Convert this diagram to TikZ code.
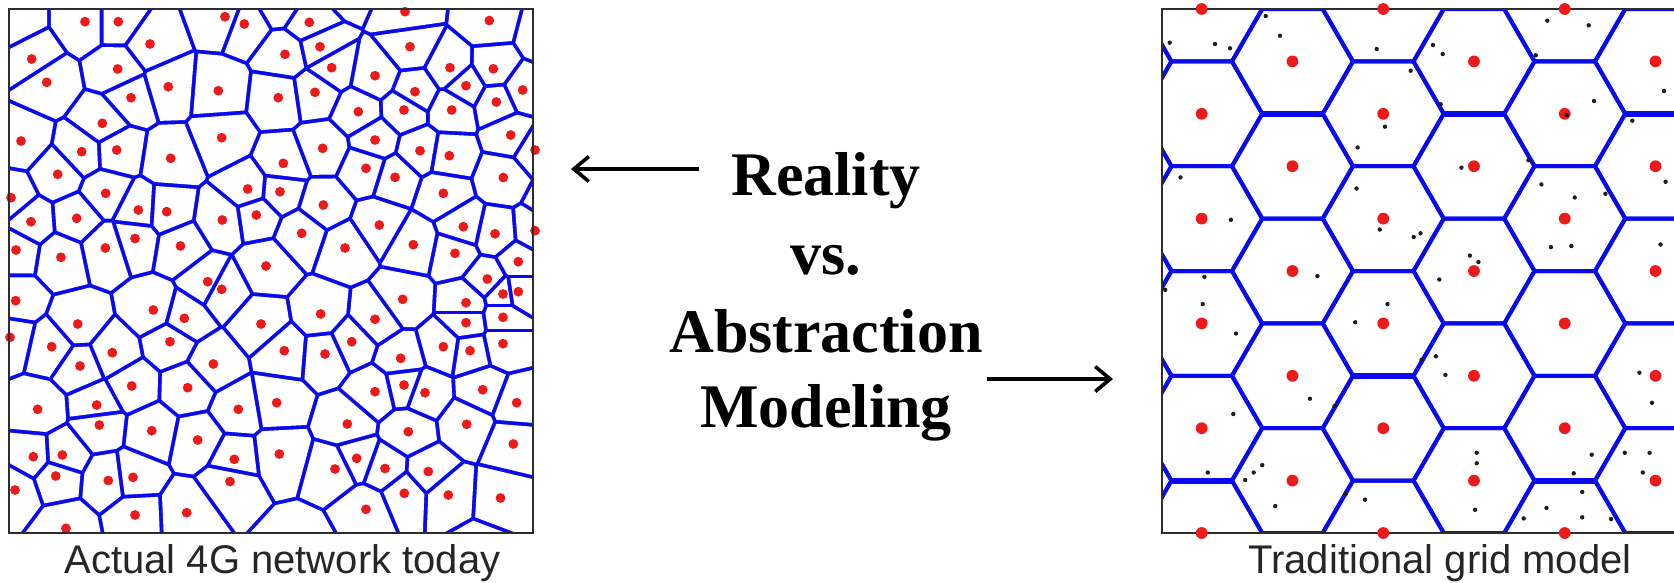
\documentclass[tikz,border=0pt]{standalone}
\usepackage{fontspec}
\setmainfont{Liberation Serif}
\newfontfamily\capfont{Liberation Sans}
\usetikzlibrary{arrows.meta}
\definecolor{vblue}{RGB}{10,10,238}
\definecolor{vred}{RGB}{238,26,26}
\definecolor{frameC}{RGB}{45,45,45}
\definecolor{capC}{RGB}{38,38,38}
\definecolor{udotC}{RGB}{30,30,30}

\makeatletter
\newcount\vnum \vnum=0
\newcount\vi
\newcount\vj
\newdimen\vdx
\newdimen\vdy
\def\vsite#1#2{\global\advance\vnum by 1\relax
  \expandafter\xdef\csname vsx\the\vnum\endcsname{\the\dimexpr #1pt\relax}%
  \expandafter\xdef\csname vsy\the\vnum\endcsname{\the\dimexpr -#2pt\relax}}
\def\vhw{1.95}
\def\vclipone{%
  \edef\vdxn{\strip@pt\vdx}\edef\vdyn{\strip@pt\vdy}%
  \pgfmathsetmacro\vang{atan2(\vdyn,\vdxn)}%
  \edef\vmx{\the\dimexpr(\csname vsx\the\vi\endcsname+\csname vsx\the\vj\endcsname)/2\relax}%
  \edef\vmy{\the\dimexpr(\csname vsy\the\vi\endcsname+\csname vsy\the\vj\endcsname)/2\relax}%
  \clip[shift={(\vmx,\vmy)},rotate=\vang] (-\vhw,-300) -- (-\vhw,300) -- (-300,300) -- (-300,-300) -- cycle;}
\def\vtry{%
  \vdx=\dimexpr\csname vsx\the\vj\endcsname-\csname vsx\the\vi\endcsname\relax
  \vdy=\dimexpr\csname vsy\the\vj\endcsname-\csname vsy\the\vi\endcsname\relax
  \ifdim\vdx<125pt \ifdim\vdx>-125pt \ifdim\vdy<125pt \ifdim\vdy>-125pt
    \vclipone
  \fi\fi\fi\fi}
\def\vinner{\vj=0 \vinnerstep}
\def\vinnerstep{\advance\vj by 1 \ifnum\vj=\vi\else\vtry\fi
  \ifnum\vj<\vnum \expandafter\vinnerstep\fi}
\makeatother

% visible sites
\foreach \a/\b in {85/21.7, 118.3/21.7, 225/16.7, 244.3/24, 31.7/59, 150/44, 117.7/69, 46.7/82.3, 168.3/86.7, 218.3/90.7, 131/97.7, 102.3/123.3, 221.7/137.7, 21/141, 81.7/151.7, 116.7/150, 170.7/158.3, 57.7/174.3, 247.7/189, 11/197.7, 105.7/193.3, 138.3/210, 166.7/211.7, 256.3/215, 31/221.7, 76.7/218.3, 222.3/220, 135/238.5, 180.5/246, 16/250, 105.3/248,
405/11.7, 489.3/20.5, 309.3/22.3, 285/54.3, 320/46.7, 410/46.7, 331.7/67.7, 450/67.7, 493.3/68.8, 375/75.7, 466/85.7, 415/91.7, 278.3/97.7, 315/92.3, 496.3/102, 358.3/111.7, 404/110, 451.7/110, 375/140, 322.7/148.3, 420/150.7, 449.3/155.7, 283.3/163.3, 503.3/177.5, 366/168.3, 395/177.3, 280/191.7, 443.3/193.3, 323.3/205, 379.3/225, 463.3/226.7, 301.7/233.3, 495/233.8, 345/248, 413.3/244.7,
61/257.3, 207.7/281.7, 221.7/289.3, 15.7/300.7, 153.3/310, 184.3/318.3, 77.7/324, 10/337.3, 170/341.7, 51.7/346.7, 112.3/352.7, 213.3/364, 80/366, 261/324, 131.7/386, 187.7/387.7, 37.7/409.3, 96.7/405, 238.3/409.3, 99.3/425, 151.7/430.7, 197.7/440, 33.3/456.7, 62.3/455, 234.3/459.3, 55.7/476, 108.3/480.5, 133/477.3, 230/481.5,
266/266, 455/253.3, 487.3/279, 503/294, 402.7/299.3, 466/302.7, 320.7/314, 375/319.3, 466/322.7, 503/317.3, 284.3/350.7, 351.7/341.7, 443.3/346.7, 470/350.7, 503/343.7, 325/354, 400.7/358.3, 375/391.7, 404/385, 425/392.7, 482.7/389.7, 276.7/402.7, 347.3/424, 408.3/431.7, 466.7/424.3, 279.3/454, 356.7/458.3, 335/469, 385/468.5, 428.3/471.5,
522.7/90, 510.7/135, 535/150, 535/230.7, 518.3/261.7, 518.3/291.7, 516.7/402.7, 513.3/444, 500.5/498,
15/490, 135/515, 186.7/512.7, 66/528.3, 366/509.3, 404.3/493.3, 448.3/495}{\vsite{\a}{\b}}
\edef\vV{\the\vnum}
% hidden sites (cells whose site lies outside the frame)
\foreach \a/\b in {13/22, 545/35, 347/-14, 280/3, 300/546, 480/552, 552/203}{\vsite{\a}{\b}}
\edef\vN{\the\vnum}

\tikzset{
  hexline/.style={draw=vblue, line width=4pt, line join=round},
  hexthick/.style={draw=vblue, line width=6.2pt},
  framebox/.style={draw=frameC, line width=1.8pt},
  sitedot/.style={fill=vred},
  userdot/.style={fill=udotC},
  caption/.style={font=\capfont\fontsize{40}{48}\selectfont, text=capC, inner sep=0pt, anchor=base},
  bigword/.style={font=\bfseries\fontsize{62}{74}\selectfont, inner sep=0pt, anchor=base},
  bigarrow/.style={line width=3.6pt, -{Straight Barb[length=15pt,width=25pt]}}
}

\begin{document}
\begin{tikzpicture}[x=1pt,y=1pt]
\useasboundingbox (0,0) rectangle (1674,-582);
\fill[white] (0,0) rectangle (1674,-582);

% ---------------- left panel: Voronoi cells ----------------
\fill[vblue] (9,-9) rectangle (533,-533);
\foreach \ii in {1,...,\vN}{%
  \vi=\ii\relax
  \begin{scope}
    \vinner
    \fill[white] (9,-9) rectangle (533,-533);
  \end{scope}
}
\foreach \ii in {1,...,\vV}{%
  \edef\px{\csname vsx\ii\endcsname}\edef\py{\csname vsy\ii\endcsname}%
  \fill[sitedot] (\px,\py) circle (4.9);
}
\draw[framebox] (9,-9) rectangle (533,-533);
\node[caption] (capL) at (282.5,-573) {Actual 4G network today};

% ---------------- middle ----------------
\node[bigword] (w1) at (826,-195) {Reality};
\node[bigword] (w2) at (826,-274) {vs.};
\node[bigword] (w3) at (826,-352) {Abstraction};
\node[bigword] (w4) at (826,-427) {Modeling};
\coordinate (la1) at (699,-169);
\coordinate (la2) at (571,-169);
\coordinate (ra1) at (987,-379);
\coordinate (ra2) at (1113,-379);
\draw[bigarrow] (la1) -- (la2);
\draw[bigarrow] (ra1) -- (ra2);

% ---------------- right panel: hexagonal grid ----------------
\begin{scope}
  \clip (1162,-9) rectangle (1680,-533);
  \foreach \k in {-1,...,6}{
    \foreach \m in {-1,...,6}{
      \pgfmathsetmacro\hcx{1201.7+90.76*\k}
      \pgfmathsetmacro\hcy{-(9+104.8*\m+52.4*mod(abs(\k),2))}
      \draw[hexline] (\hcx,\hcy) +(0:60.5) -- +(60:60.5) -- +(120:60.5) -- +(180:60.5) -- +(240:60.5) -- +(300:60.5) -- cycle;
    }
  }
  \foreach \cx/\cy in {1292.46/113.8, 1473.98/113.8, 1655.5/113.8, 1201.7/480.6, 1564.74/480.6, 1383.22/375.8}{
    \draw[hexthick] ({\cx-30.25},-\cy) -- ({\cx+30.25},-\cy);
  }
\end{scope}
\draw[framebox] (1680,-9) -- (1162,-9) -- (1162,-533) -- (1680,-533);
\foreach \k in {0,2,4}{\foreach \m in {0,...,5}{\fill[sitedot] ({1201.7+90.76*\k},{-(9+104.8*\m)}) circle (5.9);}}
\foreach \k in {1,3,5}{\foreach \m in {0,...,4}{\fill[sitedot] ({1201.7+90.76*\k},{-(61.4+104.8*\m)}) circle (5.9);}}
\foreach \p/\q in {1265.7/16, 1280/35.7, 1169.7/42.7, 1215/44, 1230/48.3, 1376.7/49, 1433/45, 1442.7/54, 1547.3/20.7, 1588.7/25.3, 1535.7/55.3, 1410.7/70.7, 1440.7/104.3, 1594/101, 1664/91, 1566.7/115, 1632.3/120.7, 1385/126.7,
1357.6/147.5, 1461.4/167.7, 1180.5/177.4, 1528.4/160.2, 1356.5/188.5, 1541.4/184.4, 1574.7/197.5, 1605.4/193.8, 1665.6/181.8, 1230.9/219.8, 1379.7/229.5, 1413.7/237, 1420.5/233.3, 1550.9/247.1, 1571.3/246, 1660.5/244.5, 1469.9/255.6, 1478.4/262, 1317.4/276.1, 1204.4/276.9, 1439.3/279.5, 1165.2/289.9, 1202.7/304.1, 1387.5/304.1, 1236/333.5, 1355.2/322.3, 1435.9/356.3, 1421.5/360, 1445.4/374.9, 1639.4/372.7, 1309.9/398.7, 1334.4/406.2, 1652/402.8, 1233.3/414, 1476.7/452.8, 1476.7/463.2, 1591.7/454.7, 1624.8/452.8, 1649.6/452.8, 1262.2/465.1, 1253.7/472.5, 1245.2/480, 1207.8/472.5, 1573.7/473.3, 1642.8/472.5, 1345.6/494.1, 1365/499.7, 1275.2/506.1, 1582.2/491.9, 1475/509.8, 1546.5/507.9, 1523.7/518.4, 1582.2/517.3, 1611.1/519.1}{
  \fill[userdot] (\p,-\q) circle (2.2);
}
\node[caption] (capR) at (1440,-573) {Traditional grid model};
\end{tikzpicture}
\end{document}
